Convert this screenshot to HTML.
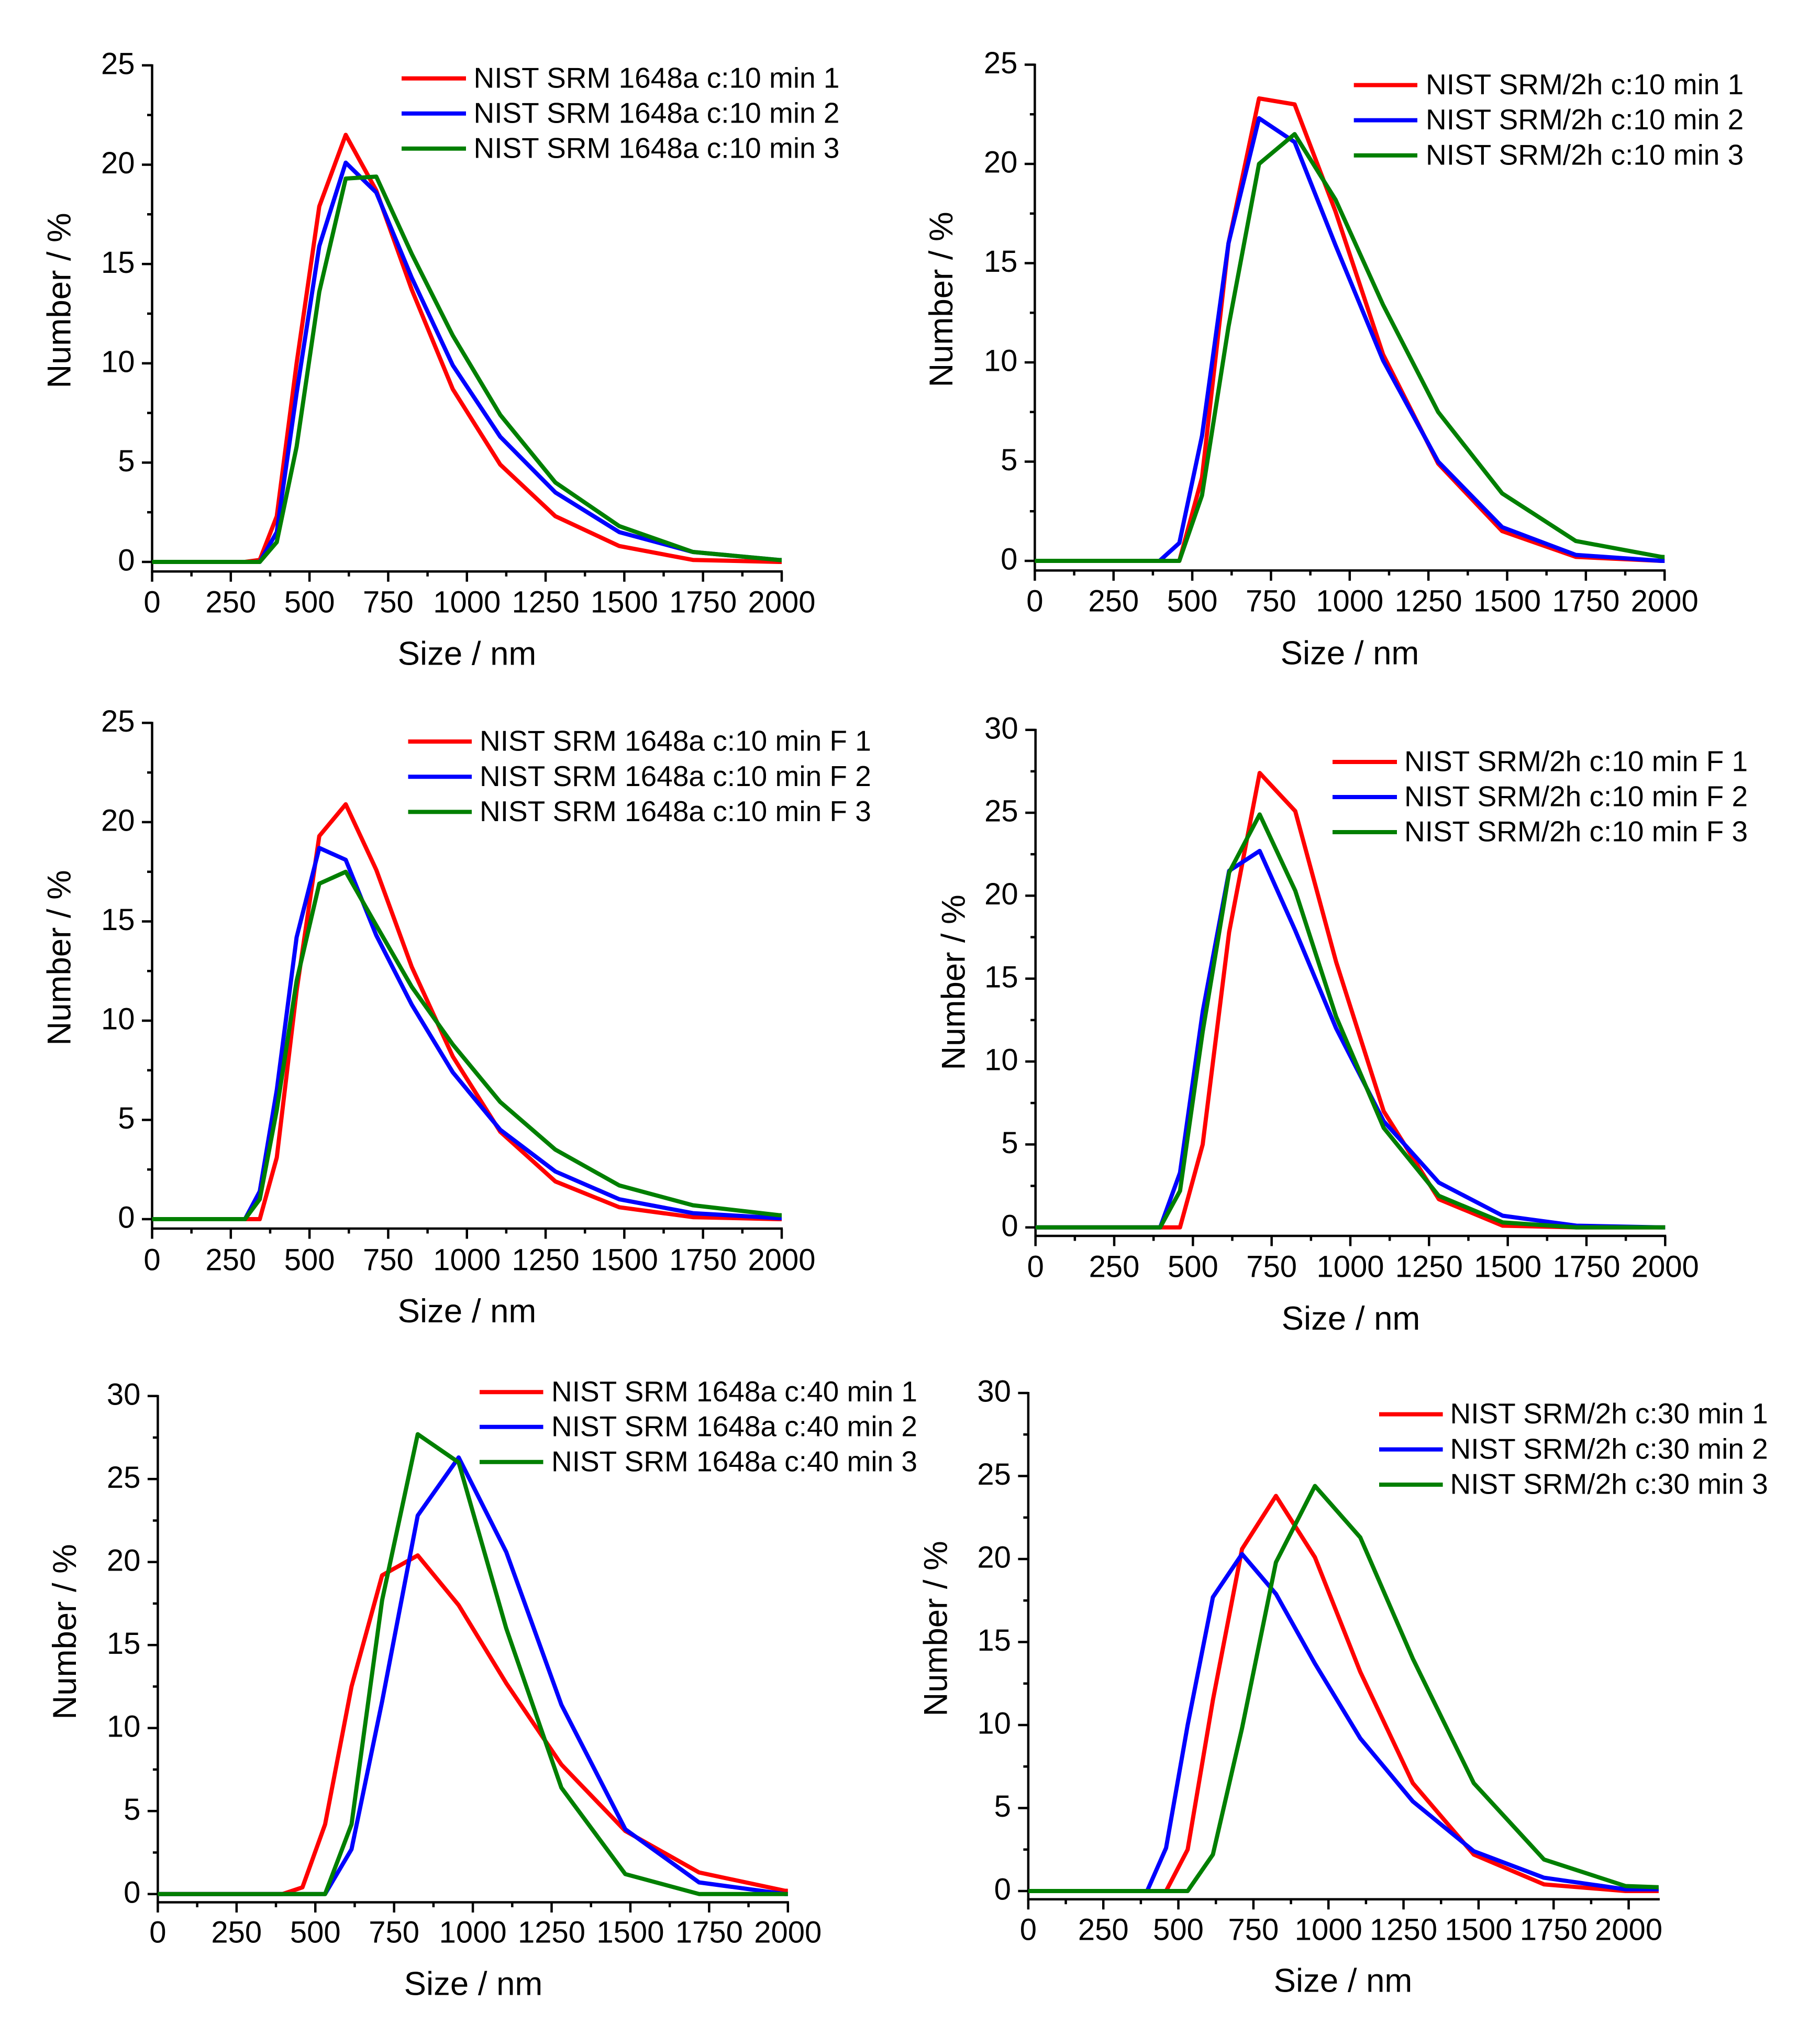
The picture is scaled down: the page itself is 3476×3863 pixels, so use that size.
<!DOCTYPE html>
<html lang="en">
<head>
<meta charset="utf-8">
<title>NIST SRM size distributions</title>
<style>
html,body{margin:0;padding:0;background:#fff;}
svg{display:block;font-family:"Liberation Sans",Arial,sans-serif;}
</style>
</head>
<body>
<svg id="figure" xmlns="http://www.w3.org/2000/svg" width="3476" height="3863" viewBox="0 0 3476 3863">
<rect x="0" y="0" width="3476" height="3863" fill="#ffffff"/>
</svg>
<script>
// Measured size bins (nm) shared by all series
const sizeBins = [0,295,342,396,459,531,615,712,825,955,1106,1281,1484,1718,1990,2305];

// Panel 1
const p1Labels = ["NIST SRM 1648a c:10 min 1","NIST SRM 1648a c:10 min 2","NIST SRM 1648a c:10 min 3"];
const p1Red   = [0,0,0.1,2.3,10,17.9,21.5,18.7,13.7,8.7,4.9,2.3,0.8,0.1,0,0];
const p1Blue  = [0,0,0,1.5,8.5,15.9,20.1,18.6,14.3,9.9,6.3,3.5,1.5,0.5,0.1,0];
const p1Green = [0,0,0,1.0,5.8,13.6,19.3,19.4,15.5,11.4,7.4,4.0,1.8,0.5,0.1,0];

// Panel 2
const p2Labels = ["NIST SRM/2h c:10 min 1","NIST SRM/2h c:10 min 2","NIST SRM/2h c:10 min 3"];
const p2Red   = [0,0,0,0,0,4.2,16,23.3,23.0,17.6,10.4,4.9,1.5,0.2,0,0];
const p2Blue  = [0,0,0,0,0.9,6.3,16,22.3,21.1,15.9,10.1,5.0,1.7,0.3,0,0];
const p2Green = [0,0,0,0,0,3.3,11.8,20,21.5,18.2,12.9,7.5,3.4,1.0,0.2,0];

// Panel 3
const p3Labels = ["NIST SRM 1648a c:10 min F 1","NIST SRM 1648a c:10 min F 2","NIST SRM 1648a c:10 min F 3"];
const p3Red   = [0,0,0,3.1,11.5,19.3,20.9,17.6,12.7,8.2,4.4,1.9,0.6,0.1,0,0];
const p3Blue  = [0,0,1.4,6.5,14.2,18.7,18.1,14.3,10.8,7.4,4.5,2.4,1.0,0.3,0.05,0];
const p3Green = [0,0,1.0,5.5,12.0,16.9,17.5,14.8,11.7,8.8,5.9,3.5,1.7,0.7,0.2,0];

// Panel 4
const p4Labels = ["NIST SRM/2h c:10 min F 1","NIST SRM/2h c:10 min F 2","NIST SRM/2h c:10 min F 3"];
const p4Red   = [0,0,0,0,0,5.0,17.8,27.4,25.1,16,7,1.7,0.1,0,0,0];
const p4Blue  = [0,0,0,0,3.3,13,21.5,22.7,17.9,12,6.4,2.7,0.7,0.1,0,0];
const p4Green = [0,0,0,0,2.2,11.8,21.4,24.9,20.3,12.7,6,1.9,0.3,0,0,0];

// Panel 5
const p5Labels = ["NIST SRM 1648a c:40 min 1","NIST SRM 1648a c:40 min 2","NIST SRM 1648a c:40 min 3"];
const p5Red   = [0,0,0,0,0.4,4.2,12.5,19.2,20.4,17.4,12.7,7.8,3.8,1.3,0.2,0];
const p5Blue  = [0,0,0,0,0,0,2.7,11.6,22.8,26.3,20.6,11.4,3.9,0.7,0,0];
const p5Green = [0,0,0,0,0,0,4.2,17.7,27.7,26,16,6.4,1.2,0,0,0];

// Panel 6
const p6Labels = ["NIST SRM/2h c:30 min 1","NIST SRM/2h c:30 min 2","NIST SRM/2h c:30 min 3"];
const p6Red   = [0,0,0,0,0,2.5,11.5,20.6,23.8,20.1,13.2,6.5,2.2,0.4,0,0];
const p6Blue  = [0,0,0,0,2.6,10,17.7,20.3,17.9,13.7,9.2,5.4,2.4,0.8,0.1,0.1];
const p6Green = [0,0,0,0,0,0,2.2,9.8,19.8,24.4,21.3,14,6.5,1.9,0.3,0.1];

// Axis tick values
const xTicks = [0,250,500,750,1000,1250,1500,1750,2000];
const yTicks25 = [0,5,10,15,20,25];
const yTicks30 = [0,5,10,15,20,25,30];
const xAxisTitle = "Size / nm";
const yAxisTitle = "Number / %";
const seriesColors = ["#ff0000","#0000ff","#007f00"];

const panels = [
  {id:"p1",series:[p1Red,p1Blue,p1Green],labels:p1Labels,yT:yTicks25,xMax:2000,left:290.5,xEnd:1493,right:1493,top:124.8,zero:1073,axisY:1091.3,tickY:1151,xTitleX:892,xTitleY:1249,yTitleX:114,yTitleY:574,legL:767,legR:890,legT:904.5,rows:[149.7,216.7,283.7]},
  {id:"p2",series:[p2Red,p2Blue,p2Green],labels:p2Labels,yT:yTicks25,xMax:2000,left:1976.4,xEnd:3179.2,right:3179.2,top:123.5,zero:1071,axisY:1089.4,tickY:1149,xTitleX:2578,xTitleY:1248,yTitleX:1798.5,yTitleY:572,legL:2585.7,legR:2707,legT:2723,rows:[162.5,229.6,296.8]},
  {id:"p3",series:[p3Red,p3Blue,p3Green],labels:p3Labels,yT:yTicks25,xMax:2000,left:290.5,xEnd:1493,right:1493,top:1380.4,zero:2328,axisY:2346,tickY:2407,xTitleX:892,xTitleY:2504.6,yTitleX:114,yTitleY:1829,legL:779.5,legR:901,legT:916,rows:[1416,1483.2,1550.4]},
  {id:"p4",series:[p4Red,p4Blue,p4Green],labels:p4Labels,yT:yTicks30,xMax:2000,left:1977.7,xEnd:3180.3,right:3180.3,top:1393.7,zero:2343.7,axisY:2360,tickY:2420,xTitleX:2580,xTitleY:2518.7,yTitleX:1822,yTitleY:1876,legL:2545,legR:2668,legT:2682,rows:[1455,1522,1589]},
  {id:"p5",series:[p5Red,p5Blue,p5Green],labels:p5Labels,yT:yTicks30,xMax:2000,left:301.4,xEnd:1504.8,right:1504.8,top:2665.8,zero:3616.7,axisY:3632.5,tickY:3691,xTitleX:904,xTitleY:3789,yTitleX:124.7,yTitleY:3116,legL:916,legR:1037.5,legT:1053,rows:[2658.3,2724.7,2791.8]},
  {id:"p6",series:[p6Red,p6Blue,p6Green],labels:p6Labels,yT:yTicks30,xMax:2100,left:1963.9,xEnd:3167.9,right:3167.9,top:2660,zero:3611,axisY:3626.7,tickY:3686,xTitleX:2565,xTitleY:3783,yTitleX:1788,yTitleY:3110,legL:2634,legR:2755.6,legT:2769.5,rows:[2700.6,2767.8,2835]}
];

const NS = "http://www.w3.org/2000/svg";
const root = document.getElementById("figure");
const AXIS_W = 4.5, LINE_W = 8, TICK_FS = 58, TITLE_FS = 63.5, LEG_FS = 55;
const X_LABEL_DY = 18.4, Y_LABEL_DY = 16.7, TITLE_DY = 20.5, LEG_DY = 17.6;

function mk(tag, attrs, parent, txt){
  const e = document.createElementNS(NS, tag);
  for (const k in attrs) e.setAttribute(k, attrs[k]);
  if (txt !== undefined) e.textContent = txt;
  parent.appendChild(e);
  return e;
}

panels.forEach(function(p, pi){
  const xOf = function(v){ return p.left + (v / p.xMax) * (p.right - p.left); };
  const yMax = p.yT[p.yT.length - 1];
  const yOf = function(v){ return p.zero - (v / yMax) * (p.zero - p.top); };

  const g = mk("g", {}, root);
  
  

  const defs = mk("defs", {}, g);
  const clip = mk("clipPath", {id: "clip-" + p.id}, defs);
  mk("rect", {x: p.left, y: p.top - 40, width: p.xEnd - p.left, height: p.axisY - p.top + 40}, clip);

  // x axis
  const xAxis = mk("line", {x1: p.left - 2, x2: p.xEnd + 2, y1: p.axisY, y2: p.axisY, stroke: "#000", "stroke-width": AXIS_W}, g);
  
  

  // y axis
  const yAxis = mk("line", {x1: p.left, x2: p.left, y1: p.top - 2, y2: p.axisY + 2, stroke: "#000", "stroke-width": AXIS_W}, g);
  
  

  xTicks.forEach(function(t, i){
    const tick = mk("line", {x1: xOf(t), x2: xOf(t), y1: p.axisY, y2: p.axisY + 19.5, stroke: "#000", "stroke-width": AXIS_W}, g);
    
    
    const lab = mk("text", {x: xOf(t), y: p.tickY + X_LABEL_DY, "font-size": TICK_FS, "text-anchor": "middle", fill: "#000"}, g, String(t));
    
    
    const nextTick = xTicks[i + 1];
    if (nextTick !== undefined){
      const mid = (t + nextTick) / 2;
      const minor = mk("line", {x1: xOf(mid), x2: xOf(mid), y1: p.axisY, y2: p.axisY + 9.5, stroke: "#000", "stroke-width": AXIS_W}, g);
      
      
    }
  });

  p.yT.forEach(function(t, i){
    const tick = mk("line", {x1: p.left - 19.5, x2: p.left, y1: yOf(t), y2: yOf(t), stroke: "#000", "stroke-width": AXIS_W}, g);
    
    
    const lab = mk("text", {x: p.left - 33, y: yOf(t) + Y_LABEL_DY, "font-size": TICK_FS, "text-anchor": "end", fill: "#000"}, g, String(t));
    
    
    const nextTick = p.yT[i + 1];
    if (nextTick !== undefined){
      const mid = (t + nextTick) / 2;
      const minor = mk("line", {x1: p.left - 9.5, x2: p.left, y1: yOf(mid), y2: yOf(mid), stroke: "#000", "stroke-width": AXIS_W}, g);
      
      
    }
  });

  const xt = mk("text", {x: p.xTitleX, y: p.xTitleY + TITLE_DY, "font-size": TITLE_FS, "text-anchor": "middle", fill: "#000"}, g, xAxisTitle);
  
  

  const ytx = p.yTitleX + TITLE_DY;
  const yt = mk("text", {x: ytx, y: p.yTitleY, "font-size": TITLE_FS, "text-anchor": "middle", fill: "#000", transform: "rotate(-90 " + ytx + " " + p.yTitleY + ")"}, g, yAxisTitle);
  
  

  p.series.forEach(function(vals, si){
    const pts = vals.map(function(v, i){ return xOf(sizeBins[i]).toFixed(1) + "," + yOf(v).toFixed(1); }).join(" ");
    const line = mk("polyline", {points: pts, fill: "none", stroke: seriesColors[si], "stroke-width": LINE_W, "stroke-linejoin": "round", "clip-path": "url(#clip-" + p.id + ")"}, g);
    
    
  });

  p.labels.forEach(function(label, si){
    const key = mk("line", {x1: p.legL, x2: p.legR, y1: p.rows[si], y2: p.rows[si], stroke: seriesColors[si], "stroke-width": LINE_W}, g);
    
    
    const txt = mk("text", {x: p.legT, y: p.rows[si] + LEG_DY, "font-size": LEG_FS, fill: "#000"}, g, label);
    
    
  });
});
</script>
</body>
</html>
